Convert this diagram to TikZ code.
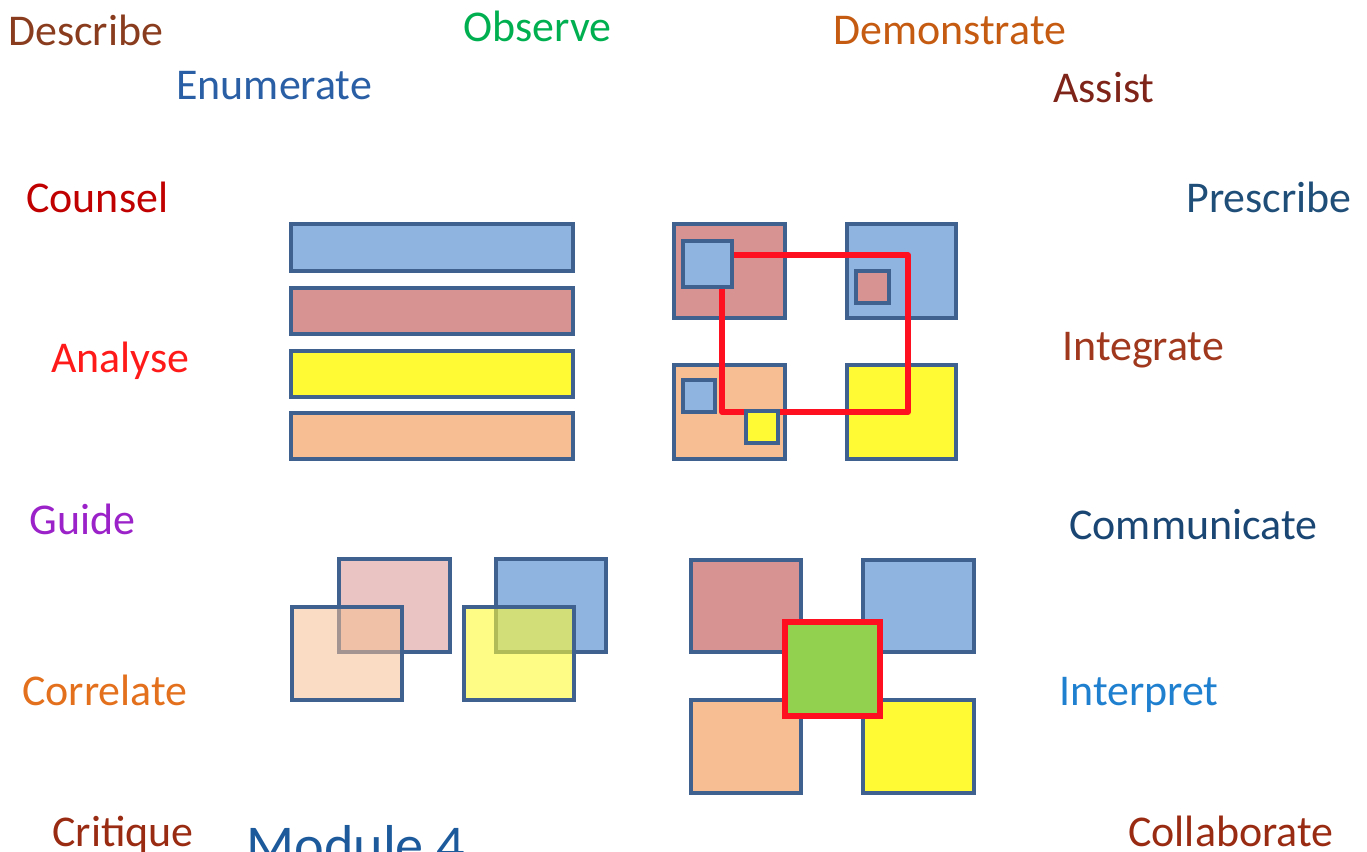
\documentclass[tikz,border=0pt]{standalone}
\usepackage{fontspec}
\setmainfont{Carlito}
\usepackage{tikz}
\definecolor{boxedge}{HTML}{3E6190}
\definecolor{boxblue}{HTML}{8FB4E0}
\definecolor{boxred}{HTML}{D79391}
\definecolor{boxyellow}{HTML}{FFFA33}
\definecolor{boxorange}{HTML}{F6BE92}
\definecolor{boxgreen}{HTML}{92D050}
\definecolor{framered}{HTML}{FF1020}
\definecolor{cdescribe}{HTML}{8A3C1E}
\definecolor{cobserve}{HTML}{00B050}
\definecolor{cdemo}{HTML}{C55A11}
\definecolor{cenum}{HTML}{2A5FA5}
\definecolor{cassist}{HTML}{7F2418}
\definecolor{ccounsel}{HTML}{C00000}
\definecolor{cprescribe}{HTML}{1F4E79}
\definecolor{canalyse}{HTML}{FF1A1A}
\definecolor{cintegrate}{HTML}{A0381E}
\definecolor{cguide}{HTML}{9B22C8}
\definecolor{ccomm}{HTML}{1A4674}
\definecolor{ccorrelate}{HTML}{E3701C}
\definecolor{cinterpret}{HTML}{2080D0}
\definecolor{ccritique}{HTML}{992B12}
\definecolor{cmodule}{HTML}{1C5A9C}
\tikzstyle{box} = [draw=boxedge, line width=2pt]
\tikzstyle{frame} = [draw=framered, line width=3.2pt]
\tikzstyle{word} = [anchor=base west, inner sep=0pt, font=\fontsize{25}{30}\selectfont]

\begin{document}
\begin{tikzpicture}[x=0.02cm, y=-0.02cm]
        \useasboundingbox (0,0) rectangle (1367,852);
        % stripes
        \draw [box, fill=boxblue] (291,224) rectangle (573,271);
        \draw [box, fill=boxred] (291,288) rectangle (573,334);
        \draw [box, fill=boxyellow] (291,351) rectangle (573,397);
        \draw [box, fill=boxorange] (291,413) rectangle (573,459);
        % nested squares with red frame
        \draw [box, fill=boxred] (674,224) rectangle (785,318);
        \draw [box, fill=boxblue] (847,224) rectangle (956,318);
        \draw [box, fill=boxorange] (674,365) rectangle (785,459);
        \draw [box, fill=boxyellow] (847,365) rectangle (956,459);
        \draw [box, fill=boxred] (856,271) rectangle (889,303);
        \draw [box, fill=boxblue] (683,380) rectangle (715,412);
        \draw [frame, line join=round] (722,255) rectangle (908,412);
        \draw [box, fill=boxblue] (683,241) rectangle (732,287);
        \draw [box, fill=boxyellow] (746,411) rectangle (778,443);
        % overlapping squares
        \draw [box, fill=boxred, fill opacity=0.55] (339,559) rectangle (450,652);
        \draw [box, fill=boxorange, fill opacity=0.55] (292,607) rectangle (402,700);
        \draw [box, fill=boxblue] (496,559) rectangle (606,652);
        \draw [box, fill=boxyellow, fill opacity=0.6] (464,607) rectangle (574,700);
        % four squares with centre
        \draw [box, fill=boxred] (691,560) rectangle (801,652);
        \draw [box, fill=boxblue] (863,560) rectangle (974,652);
        \draw [box, fill=boxorange] (691,700) rectangle (801,793);
        \draw [box, fill=boxyellow] (863,700) rectangle (974,793);
        \draw [frame, fill=boxgreen] (785,622) rectangle (880,716);
        % verbs
        \node (describe) [word, text=cdescribe] at (8,46) {Describe};
        \node (observe) [word, text=cobserve] at (463,41) {Observe};
        \node (demonstrate) [word, text=cdemo] at (833,45) {Demonstrate};
        \node (enumerate) [word, text=cenum] at (176,99) {Enumerate};
        \node (assist) [word, text=cassist] at (1053,102) {Assist};
        \node (counsel) [word, text=ccounsel] at (26,212) {Counsel};
        \node (prescribe) [word, text=cprescribe] at (1186,212) {Prescribe};
        \node (analyse) [word, text=canalyse] at (51,372) {Analyse};
        \node (integrate) [word, text=cintegrate] at (1062,360) {Integrate};
        \node (guide) [word, text=cguide] at (29,534) {Guide};
        \node (communicate) [word, text=ccomm] at (1069,539) {Communicate};
        \node (correlate) [word, text=ccorrelate] at (22,705) {Correlate};
        \node (interpret) [word, text=cinterpret] at (1059,705) {Interpret};
        \node (critique) [word, text=ccritique] at (52,846) {Critique};
        \node (collaborate) [word, text=ccritique] at (1128,846) {Collaborate};
        \node (module) [word, text=cmodule, font=\fontsize{32}{38}\selectfont] at (246,864) {Module 4};
\end{tikzpicture}
\end{document}
